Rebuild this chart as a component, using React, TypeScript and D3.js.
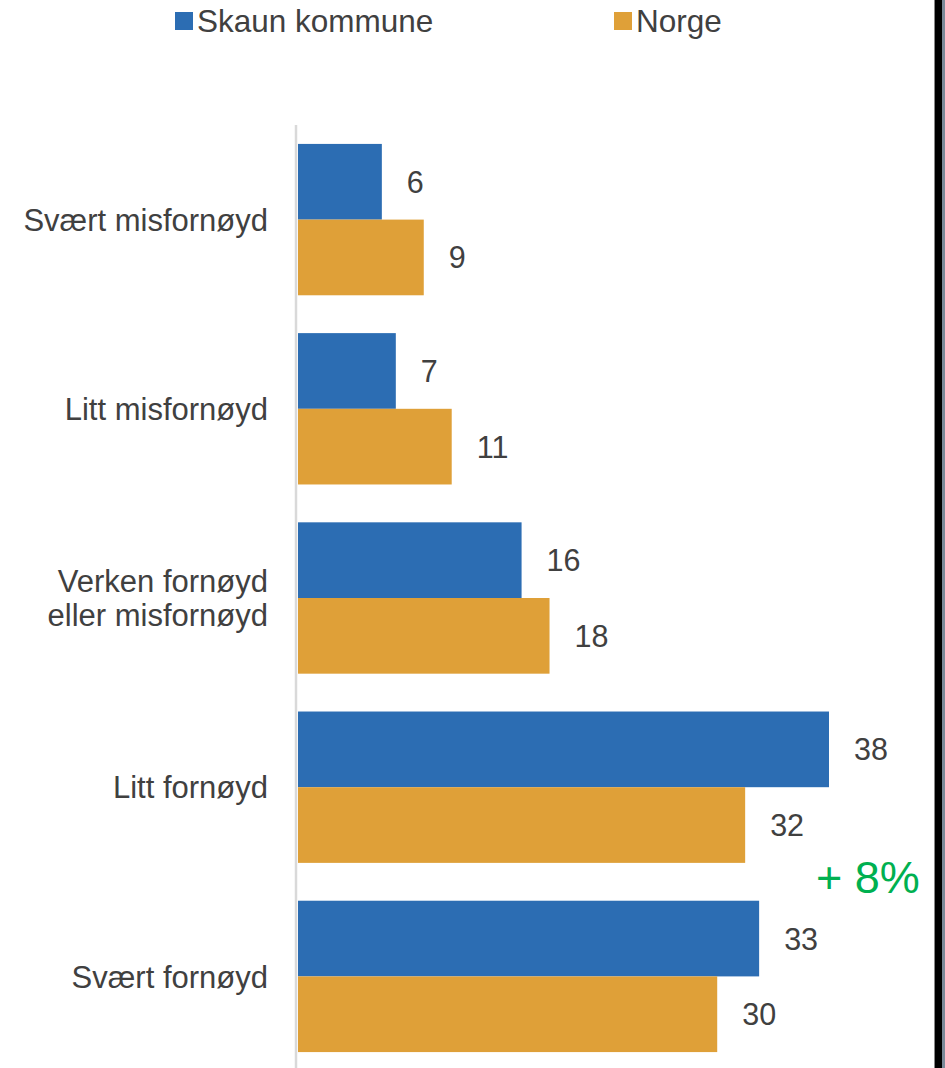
import React from 'react';
import * as d3 from 'd3';

// categories (top to bottom)
const categories = [
  ['Svært misfornøyd'],
  ['Litt misfornøyd'],
  ['Verken fornøyd', 'eller misfornøyd'],
  ['Litt fornøyd'],
  ['Svært fornøyd'],
];
const seriesNames = ['Skaun kommune', 'Norge'];
const skaun = [6, 7, 16, 38, 33];
const norge = [9, 11, 18, 32, 30];
const annotation = '+ 8%';

const W = 945;
const H = 1068;
const colors = ['#2c6db3', '#dfa038'];
const font = '"Liberation Sans", Arial, sans-serif';
const textColor = '#404040';

const App = () => {
  const keys = categories.map((c) => c.join(' '));
  const y = d3.scaleBand().domain(keys).range([125, 1071]).paddingInner(0.2).paddingOuter(0.1);
  const ySub = d3.scaleBand().domain(seriesNames).range([0, y.bandwidth()]);
  const x = d3.scaleLinear().domain([0, 38]).range([298, 829]);
  const series = [skaun, norge];

  return (
    <div style={{ position: 'absolute', left: 0, top: 0 }}>
      <svg width={W} height={H} style={{ display: 'block', background: '#fff' }} fontFamily={font}>
        {/* legend */}
        {seriesNames.map((name, i) => {
          const lx = i === 0 ? 175 : 614;
          return (
            <g key={name}>
              <rect x={lx} y={12} width={18} height={18} fill={colors[i]} />
              <text x={lx + 22} y={32} fontSize={31.5} fill={textColor}>
                {name}
              </text>
            </g>
          );
        })}

        {/* bars */}
        {keys.map((k, ci) =>
          seriesNames.map((s, si) => {
            const v = series[si][ci];
            const by = (y(k) as number) + (ySub(s) as number);
            const bh = ySub.bandwidth();
            return (
              <g key={k + s}>
                <rect x={x(0)} y={by} width={x(v) - x(0)} height={bh} fill={colors[si]} />
                <text
                  x={x(v) + 25}
                  y={by + bh / 2}
                  dy="0.36em"
                  fontSize={30.5}
                  fill={textColor}
                >
                  {v}
                </text>
              </g>
            );
          })
        )}

        {/* axis line */}
        <line x1={296} x2={296} y1={125} y2={H} stroke="#d9d9d9" strokeWidth={2.5} />

        {/* category labels */}
        {categories.map((lines, ci) => {
          const cy = (y(keys[ci]) as number) + y.bandwidth() / 2;
          const lh = 34;
          const y0 = cy - ((lines.length - 1) * lh) / 2;
          return (
            <text key={keys[ci]} textAnchor="end" fontSize={31} fill={textColor}>
              {lines.map((l, li) => (
                <tspan key={l} x={268} y={y0 + li * lh} dy="0.36em">
                  {l}
                </tspan>
              ))}
            </text>
          );
        })}

        {/* annotation */}
        <text x={816} y={893} fontSize={45} fill="#00b050">
          {annotation}
        </text>

        {/* right border */}
        <rect x={934} y={0} width={1} height={H} fill="#888" />
        <rect x={935} y={0} width={7} height={H} fill="#000" />
        <rect x={942} y={0} width={3} height={H} fill="#7a8a99" />
      </svg>
    </div>
  );
};

export default App;
